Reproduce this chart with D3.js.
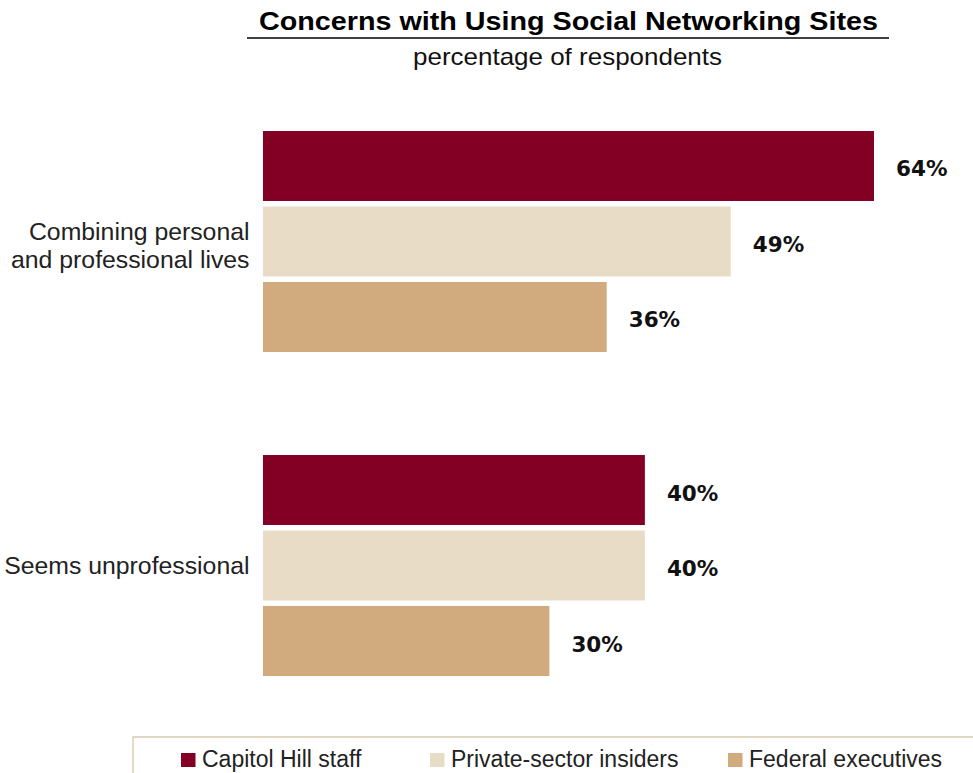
<!DOCTYPE html>
<html>
<head>
<meta charset="utf-8">
<script src="https://cdn.jsdelivr.net/npm/d3@7"></script>
<style>
  html, body { margin: 0; padding: 0; background: #fff; }
  svg { display: block; font-family: "Liberation Sans", Arial, Helvetica, sans-serif; }
</style>
</head>
<body>
<svg id="chart" width="973" height="773"></svg>
<script>
// Survey concerns, share of respondents per group
const categories = ["Combining personal\nand professional lives", "Seems unprofessional"];
const seriesNames = ["Capitol Hill staff", "Private-sector insiders", "Federal executives"];
const capitolHill = [64, 40];
const privateSector = [49, 40];
const federalExec = [36, 30];
const seriesColors = ["#830024", "#e9dcc6", "#d1ab7d"];

const series = [capitolHill, privateSector, federalExec];

const svg = d3.select("#chart");

// Scales: value axis starts at the bar baseline, groups and bars are bands
const x = d3.scaleLinear().domain([0, 64]).range([263, 874]);
const y0 = d3.scaleBand().domain(categories).range([131, 676]).paddingInner(0.318).paddingOuter(0);
const y1 = d3.scaleBand().domain(seriesNames).range([0, y0.bandwidth()]).paddingInner(0.073);

// Title, rule and subtitle
svg.append("text")
  .attr("x", 568.5).attr("y", 30)
  .attr("text-anchor", "middle")
  .attr("font-size", 25).attr("font-weight", "bold")
  .attr("textLength", 619).attr("lengthAdjust", "spacingAndGlyphs")
  .attr("fill", "#000")
  .text("Concerns with Using Social Networking Sites");
svg.append("line")
  .attr("x1", 247).attr("x2", 889).attr("y1", 38).attr("y2", 38)
  .attr("stroke", "#000").attr("stroke-width", 1.4);
svg.append("text")
  .attr("x", 567.5).attr("y", 65)
  .attr("text-anchor", "middle")
  .attr("font-size", 24)
  .attr("textLength", 309).attr("lengthAdjust", "spacingAndGlyphs")
  .attr("fill", "#111")
  .text("percentage of respondents");

// Bars
const groups = svg.append("g").selectAll("g")
  .data(categories)
  .join("g")
  .attr("transform", d => `translate(0,${y0(d)})`);

const cells = (d, i) => seriesNames.map((s, j) => ({ s, v: series[j][i], j }));

groups.selectAll("rect")
  .data(cells)
  .join("rect")
  .attr("x", x(0))
  .attr("y", d => y1(d.s))
  .attr("width", d => x(d.v) - x(0))
  .attr("height", y1.bandwidth())
  .attr("fill", d => seriesColors[d.j]);

// Value labels beside each bar
groups.selectAll("text.val")
  .data(cells)
  .join("text")
  .attr("class", "val")
  .attr("x", d => x(d.v) + 22)
  .attr("y", d => y1(d.s) + y1.bandwidth() / 2 + 10.5)
  .attr("font-family", "'DejaVu Sans', sans-serif")
  .attr("font-size", 21.5).attr("font-weight", "bold")
  .attr("fill", "#111")
  .text(d => d.v + "%");

// Category labels, right-aligned against the bars
groups.append("text")
  .attr("text-anchor", "end")
  .attr("font-size", 24.8)
  .attr("fill", "#222")
  .each(function (d) {
    const lines = d.split("\n");
    const mid = y0.bandwidth() / 2;
    const lh = 28;
    const first = lines.length > 1 ? mid - 1 : mid + 8.5;
    d3.select(this).selectAll("tspan")
      .data(lines)
      .join("tspan")
      .attr("x", 249.5)
      .attr("y", (l, k) => first + k * lh)
      .text(l => l);
  });

// Legend frame
svg.append("path")
  .attr("d", "M133,773 V737 H973")
  .attr("fill", "none")
  .attr("stroke", "#d6c9ad").attr("stroke-width", 1.3);

const legendX = [181, 430, 728];
const legend = svg.append("g").selectAll("g")
  .data(seriesNames)
  .join("g")
  .attr("transform", (d, i) => `translate(${legendX[i]},753)`);
legend.append("rect")
  .attr("width", 14.5).attr("height", 14)
  .attr("fill", (d, i) => seriesColors[i]);
legend.append("text")
  .attr("x", 21).attr("y", 14)
  .attr("font-size", 23)
  .attr("fill", "#222")
  .text(d => d);
</script>
</body>
</html>
